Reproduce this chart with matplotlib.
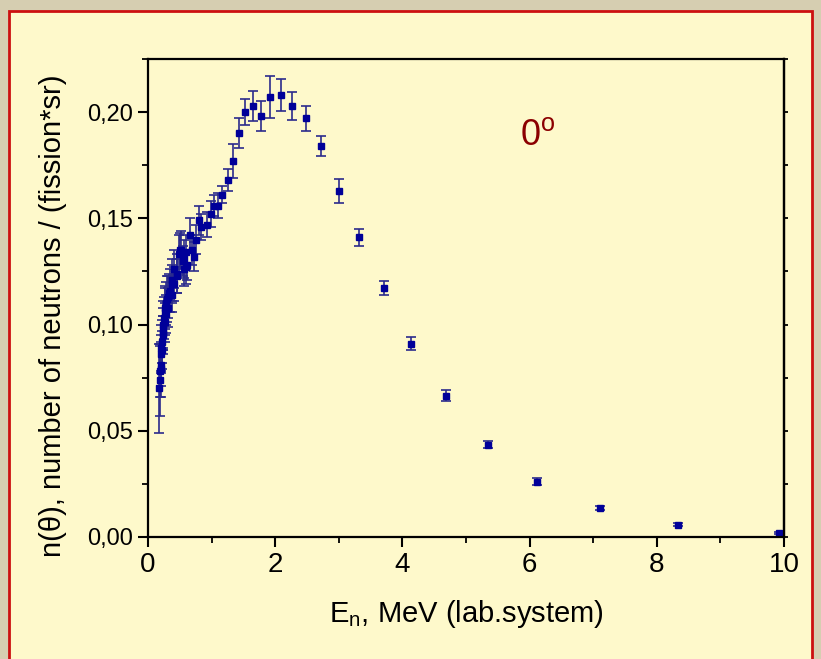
import matplotlib.pyplot as plt
import matplotlib.ticker as ticker
from matplotlib.patches import Rectangle
import numpy as np

plt.rcParams['font.family'] = ['Liberation Sans', 'DejaVu Sans']
plt.rcParams['mathtext.fontset'] = 'custom'
plt.rcParams['mathtext.rm'] = 'Liberation Sans'
plt.rcParams['mathtext.it'] = 'Liberation Sans'

# neutron energy, MeV (lab. system)
energy = [0.18, 0.19, 0.19, 0.20, 0.20, 0.21, 0.21, 0.22, 0.22, 0.23,
          0.23, 0.24, 0.24, 0.25, 0.26, 0.26, 0.27, 0.28, 0.29, 0.30,
          0.31, 0.32, 0.33, 0.35, 0.37, 0.37, 0.38, 0.41, 0.41, 0.45,
          0.45, 0.48, 0.50, 0.52, 0.55, 0.56, 0.57, 0.59, 0.60, 0.61,
          0.66, 0.69, 0.72, 0.75, 0.80, 0.84, 0.92, 0.99, 1.04, 1.10,
          1.17, 1.25, 1.34, 1.43, 1.53, 1.65, 1.78, 1.92, 2.09, 2.27,
          2.48, 2.72, 3.00, 3.32, 3.71, 4.14, 4.69, 5.34, 6.12, 7.10,
          8.33, 9.92]
# n(theta), neutrons / (fission*sr)
n_theta = [0.070, 0.074, 0.078, 0.081, 0.079, 0.086, 0.089, 0.092, 0.088, 0.095,
           0.098, 0.100, 0.096, 0.103, 0.101, 0.106, 0.108, 0.105, 0.110, 0.112,
           0.108, 0.113, 0.115, 0.116, 0.114, 0.121, 0.119, 0.119, 0.126, 0.123,
           0.124, 0.133, 0.135, 0.135, 0.130, 0.126, 0.131, 0.127, 0.134, 0.128,
           0.142, 0.135, 0.132, 0.140, 0.149, 0.146, 0.147, 0.152, 0.156, 0.156,
           0.161, 0.168, 0.177, 0.190, 0.200, 0.203, 0.198, 0.207, 0.208, 0.203,
           0.197, 0.184, 0.163, 0.141, 0.117, 0.091, 0.0665, 0.0434, 0.026, 0.0138,
           0.0058, 0.0019]
n_err = [0.021, 0.017, 0.012, 0.010, 0.013, 0.009, 0.011, 0.010, 0.009, 0.009,
         0.010, 0.011, 0.008, 0.010, 0.009, 0.011, 0.010, 0.009, 0.010, 0.011,
         0.009, 0.010, 0.009, 0.010, 0.008, 0.010, 0.009, 0.008, 0.009, 0.008,
         0.009, 0.009, 0.008, 0.009, 0.007, 0.008, 0.009, 0.008, 0.008, 0.007,
         0.008, 0.007, 0.007, 0.007, 0.007, 0.006, 0.006, 0.006, 0.005, 0.006,
         0.004, 0.005, 0.008, 0.007, 0.006, 0.007, 0.007, 0.010, 0.0076, 0.0067,
         0.0058, 0.0046, 0.0056, 0.004, 0.0033, 0.003, 0.0027, 0.0017, 0.0017, 0.001,
         0.0007, 0.0005]

fig = plt.figure(figsize=(8.21, 6.59), dpi=100)
fig.patch.set_facecolor('#d6ceb1')
fig.patches.append(Rectangle((9/821, -0.02), 803/821, 1 - 11/659 + 0.02,
                             transform=fig.transFigure, facecolor='#fef9cb',
                             edgecolor='#cc1010', linewidth=2, zorder=-10))

ax = fig.add_axes([148/821, 1 - 537/659, 636/821, 478/659])
ax.set_facecolor('none')
ax.set_zorder(5)

ax.errorbar(energy, n_theta, yerr=n_err, fmt='s', ms=5, color='#000099',
            mec='#000099', ecolor='#2b2b8c', elinewidth=1.2, capsize=3.5,
            capthick=1.2)

ax.set_xlim(0, 10)
ax.set_ylim(0, 0.225)
ax.xaxis.set_major_locator(ticker.MultipleLocator(2))
ax.xaxis.set_minor_locator(ticker.MultipleLocator(1))
ax.yaxis.set_major_locator(ticker.MultipleLocator(0.05))
ax.yaxis.set_minor_locator(ticker.MultipleLocator(0.025))
ax.yaxis.set_major_formatter(ticker.FuncFormatter(lambda v, p: f"{v:.2f}".replace('.', ',')))

for s in ax.spines.values():
    s.set_linewidth(1.6)
ax.tick_params(which='major', length=7, width=1.5, labelsize=17, direction='out',
               top=False, right=False)
ax.tick_params(which='minor', length=4, width=1.3, direction='out', top=False, right=False)
ax.tick_params(axis='x', which='major', labelsize=20, pad=4)

# short ticks on the right spine, no labels
sec = ax.secondary_yaxis('right')
sec.yaxis.set_major_locator(ticker.MultipleLocator(0.025))
sec.tick_params(length=3, width=1.3, labelright=False)
sec.spines['right'].set_linewidth(1.6)

ax.set_xlabel(r'E$_{\rm n}$, MeV (lab.system)', fontsize=21, labelpad=14)
ax.set_ylabel('n(θ), number of neutrons / (fission*sr)', fontsize=21)
ax.yaxis.set_label_coords(-0.128, 0.462)

ax.text(6.12, 0.189, r'0$^{\rm o}$', color='#8b0000', fontsize=26, ha='center', va='center')

plt.savefig('out.png', dpi=100, facecolor=fig.get_facecolor())
